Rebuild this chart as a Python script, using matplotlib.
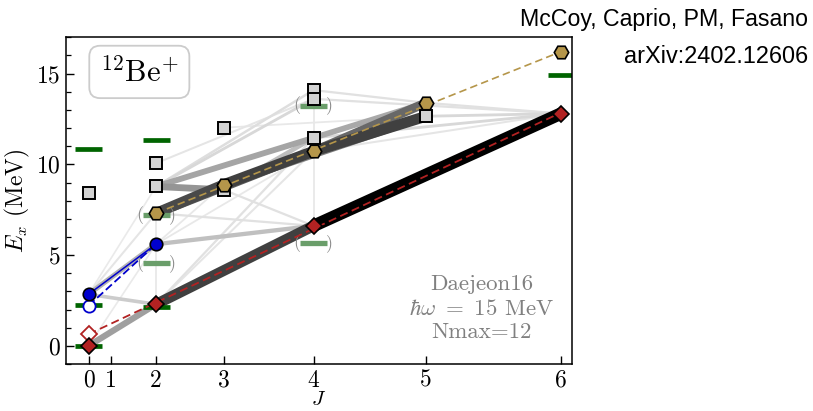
import numpy as np
import matplotlib
matplotlib.use("Agg")
import matplotlib.pyplot as plt
from matplotlib.ticker import MultipleLocator, FixedLocator, FixedFormatter

plt.rcParams['font.family'] = 'serif'
plt.rcParams['font.serif'] = ['cmr10']
plt.rcParams['mathtext.fontset'] = 'cm'
plt.rcParams['axes.unicode_minus'] = False
plt.rcParams['axes.formatter.use_mathtext'] = True

# ---------------- data (J, excitation energy in MeV) ----------------
red_J = [0, 2, 4, 6]
red_E = [0.00, 2.29, 6.61, 12.80]
red_open_J = [0]
red_open_E = [0.64]
red_fit_J = [0, 6]
red_fit_E = [0.64, 12.85]

blue_J = [0, 2]
blue_E = [2.84, 5.60]
blue_open_J = [0]
blue_open_E = [2.21]
blue_fit_J = [0, 2]
blue_fit_E = [2.21, 5.60]

gold_J = [2, 3, 4, 5, 6]
gold_E = [7.31, 8.88, 10.72, 13.39, 16.21]
gold_fit_J = [2, 6]
gold_fit_E = [7.31, 16.21]

other_J = [0, 2, 2, 3, 3, 4, 4, 4, 5]
other_E = [8.42, 8.78, 10.06, 12.02, 8.60, 14.09, 13.61, 11.46, 12.65]

exp_J = [0, 0, 0, 2, 2, 6]
exp_E = [0.00, 2.23, 10.85, 2.15, 11.33, 14.92]
exp_tent_J = [2, 2, 4, 4]
exp_tent_E = [4.55, 7.22, 5.69, 13.24]

# transitions: initial (J, E), final (J, E), relative strength
tr_Ji = [0, 2, 4, 0, 2, 3, 2, 4, 4, 3, 2, 2, 4, 3, 2, 2, 5, 5, 4, 4, 4, 4, 4, 2, 2, 0, 2, 2, 0, 3, 2, 0, 0, 2, 3, 2, 2]
tr_Ei = [0.00, 2.29, 6.61, 2.84, 7.31, 8.88, 7.31, 10.72, 10.72, 8.88, 8.78, 8.78, 11.46, 8.60, 8.78, 8.78,
         13.39, 12.65, 13.61, 11.46, 10.72, 14.09, 6.61, 2.29, 5.60, 2.84, 2.29, 2.29, 2.84, 8.60, 7.31, 0.00,
         2.84, 10.06, 12.02, 5.60, 5.60]
tr_Jf = [2, 4, 6, 2, 3, 4, 4, 5, 5, 5, 4, 3, 5, 4, 4, 4, 6, 6, 6, 6, 6, 5, 4, 2, 4, 2, 4, 4, 2, 4, 4, 2, 2, 4, 5, 3, 4]
tr_Ef = [2.29, 6.61, 12.80, 5.60, 8.88, 10.72, 10.72, 13.39, 12.65, 12.65, 11.46, 8.60, 13.39, 11.46, 14.09, 13.61,
         12.80, 12.80, 12.80, 12.80, 12.80, 13.39, 13.61, 7.31, 6.61, 2.29, 11.46, 10.72, 7.31, 6.61, 6.61, 5.60,
         8.78, 13.61, 12.65, 8.88, 10.72]
tr_S = [0.45, 0.85, 1.00, 0.35, 0.82, 0.85, 0.75, 0.70, 0.85, 0.60, 0.42, 0.50, 0.40, 0.30, 0.12, 0.15,
        0.10, 0.15, 0.10, 0.15, 0.08, 0.10, 0.06, 0.06, 0.28, 0.22, 0.10, 0.08, 0.08, 0.10, 0.10, 0.05,
        0.05, 0.08, 0.06, 0.06, 0.06]

x_ticks_J = [0, 1, 2, 3, 4, 5, 6]


def jj(J):
    J = np.asarray(J, dtype=float)
    return J * (J + 1)


# ---------------- figure ----------------
W, H = 813, 411
fig = plt.figure(figsize=(W / 100, H / 100), dpi=100)
L, R, B, T = 66, 571.7, 364, 37.3
ax = fig.add_axes([L / W, 1 - B / H, (R - L) / W, (B - T) / H])

# transitions (weak first)
order = np.argsort(tr_S)
for i in order:
    s = tr_S[i]
    g = 0.95 * (1 - s) ** 0.7
    ax.plot(jj([tr_Ji[i], tr_Jf[i]]), [tr_Ei[i], tr_Ef[i]], color=(g, g, g),
            lw=0.8 + 8.2 * s, solid_capstyle='butt', zorder=1)

# experimental levels
hw = 1.2
for J, E in zip(exp_J, exp_E):
    x = jj(J)
    ax.plot([x - hw, x + hw], [E, E], color='#006400', lw=3.4, solid_capstyle='butt', zorder=2)
for J, E in zip(exp_tent_J, exp_tent_E):
    x = jj(J)
    ax.plot([x - hw, x + hw], [E, E], color='#6a9e6a', lw=3.8, solid_capstyle='butt', zorder=2)
    ax.text(x - hw + 0.05, E, '(', ha='right', va='center', color='#8c8c8c', fontsize=13, zorder=2)
    ax.text(x + hw - 0.05, E, ')', ha='left', va='center', color='#8c8c8c', fontsize=13, zorder=2)

# band fit lines
ax.plot(jj(red_fit_J), red_fit_E, color='#b22222', lw=1.3, dashes=(4.5, 2.5), zorder=3)
ax.plot(jj(gold_fit_J), gold_fit_E, color='#b5964a', lw=1.2, dashes=(4.5, 2.5), zorder=3)
ax.plot(jj(blue_fit_J), blue_fit_E, color='#0000cd', lw=1.3, dashes=(4.5, 2.0), zorder=3)
ax.plot(jj(blue_J), blue_E, color='#0000cd', lw=1.1, zorder=3)

# calculated levels
ax.plot(jj(other_J), other_E, ls='none', marker='s', ms=9.2, mfc='#d3d3d3', mec='black', mew=1.4, zorder=4)
ax.plot(jj(gold_J), gold_E, ls='none', marker='H', ms=10.4, mfc='#b5964a', mec='black', mew=1.2, zorder=4)
ax.plot(jj(red_open_J), red_open_E, ls='none', marker='D', ms=8.0, mfc='white', mec='#b22222', mew=1.3, zorder=4)
ax.plot(jj(blue_open_J), blue_open_E, ls='none', marker='o', ms=8.8, mfc='white', mec='#0000cd', mew=1.3, zorder=4)
ax.plot(jj(blue_J), blue_E, ls='none', marker='o', ms=9.0, mfc='#0000cd', mec='black', mew=1.2, zorder=5)
ax.plot(jj(red_J), red_E, ls='none', marker='D', ms=8.4, mfc='#b22222', mec='black', mew=1.2, zorder=5)

# axes
ax.set_xlim(-2.0, 42.95)
ax.set_ylim(-1.0, 17.0)
ax.xaxis.set_major_locator(FixedLocator(jj(x_ticks_J)))
ax.xaxis.set_major_formatter(FixedFormatter([str(j) for j in x_ticks_J]))
ax.yaxis.set_major_locator(MultipleLocator(5))
ax.yaxis.set_minor_locator(MultipleLocator(1))
ax.tick_params(axis='both', which='major', direction='in', length=6, width=1.0, labelsize=17, pad=4)
ax.tick_params(axis='y', which='minor', direction='in', length=3.5, width=0.9)
for sp in ax.spines.values():
    sp.set_linewidth(1.1)
ax.set_xlabel(r'$J$', fontsize=15)
ax.xaxis.set_label_coords(0.5, (B - 391) / (B - T))
ax.set_ylabel(r'$E_x$ (MeV)', fontsize=17, labelpad=3)

# annotations
ax.text(0.145, 0.894, r'$^{12}\mathrm{Be}^{+}$', transform=ax.transAxes, fontsize=22,
        ha='center', va='center', zorder=6,
        bbox=dict(boxstyle='round,pad=0.35', fc='white', ec='#cccccc', lw=1.3))
tx = (481.5 - L) / (R - L)
for txt, yb in [('Daejeon16', 290), (r'$\hbar\omega\ =\ 15$ MeV', 315), ('Nmax=12', 338)]:
    ax.text(tx, (B - yb) / (B - T), txt, transform=ax.transAxes, fontsize=16.5,
            ha='center', va='baseline', color='#808080', zorder=6)

fig.text(808 / W, 1 - 26 / H, 'McCoy, Caprio, PM, Fasano', ha='right', va='baseline',
         fontsize=16.7, family='Liberation Sans')
fig.text(808 / W, 1 - 63 / H, 'arXiv:2402.12606', ha='right', va='baseline',
         fontsize=16.9, family='Liberation Sans')

fig.savefig('out.png', dpi=100)
